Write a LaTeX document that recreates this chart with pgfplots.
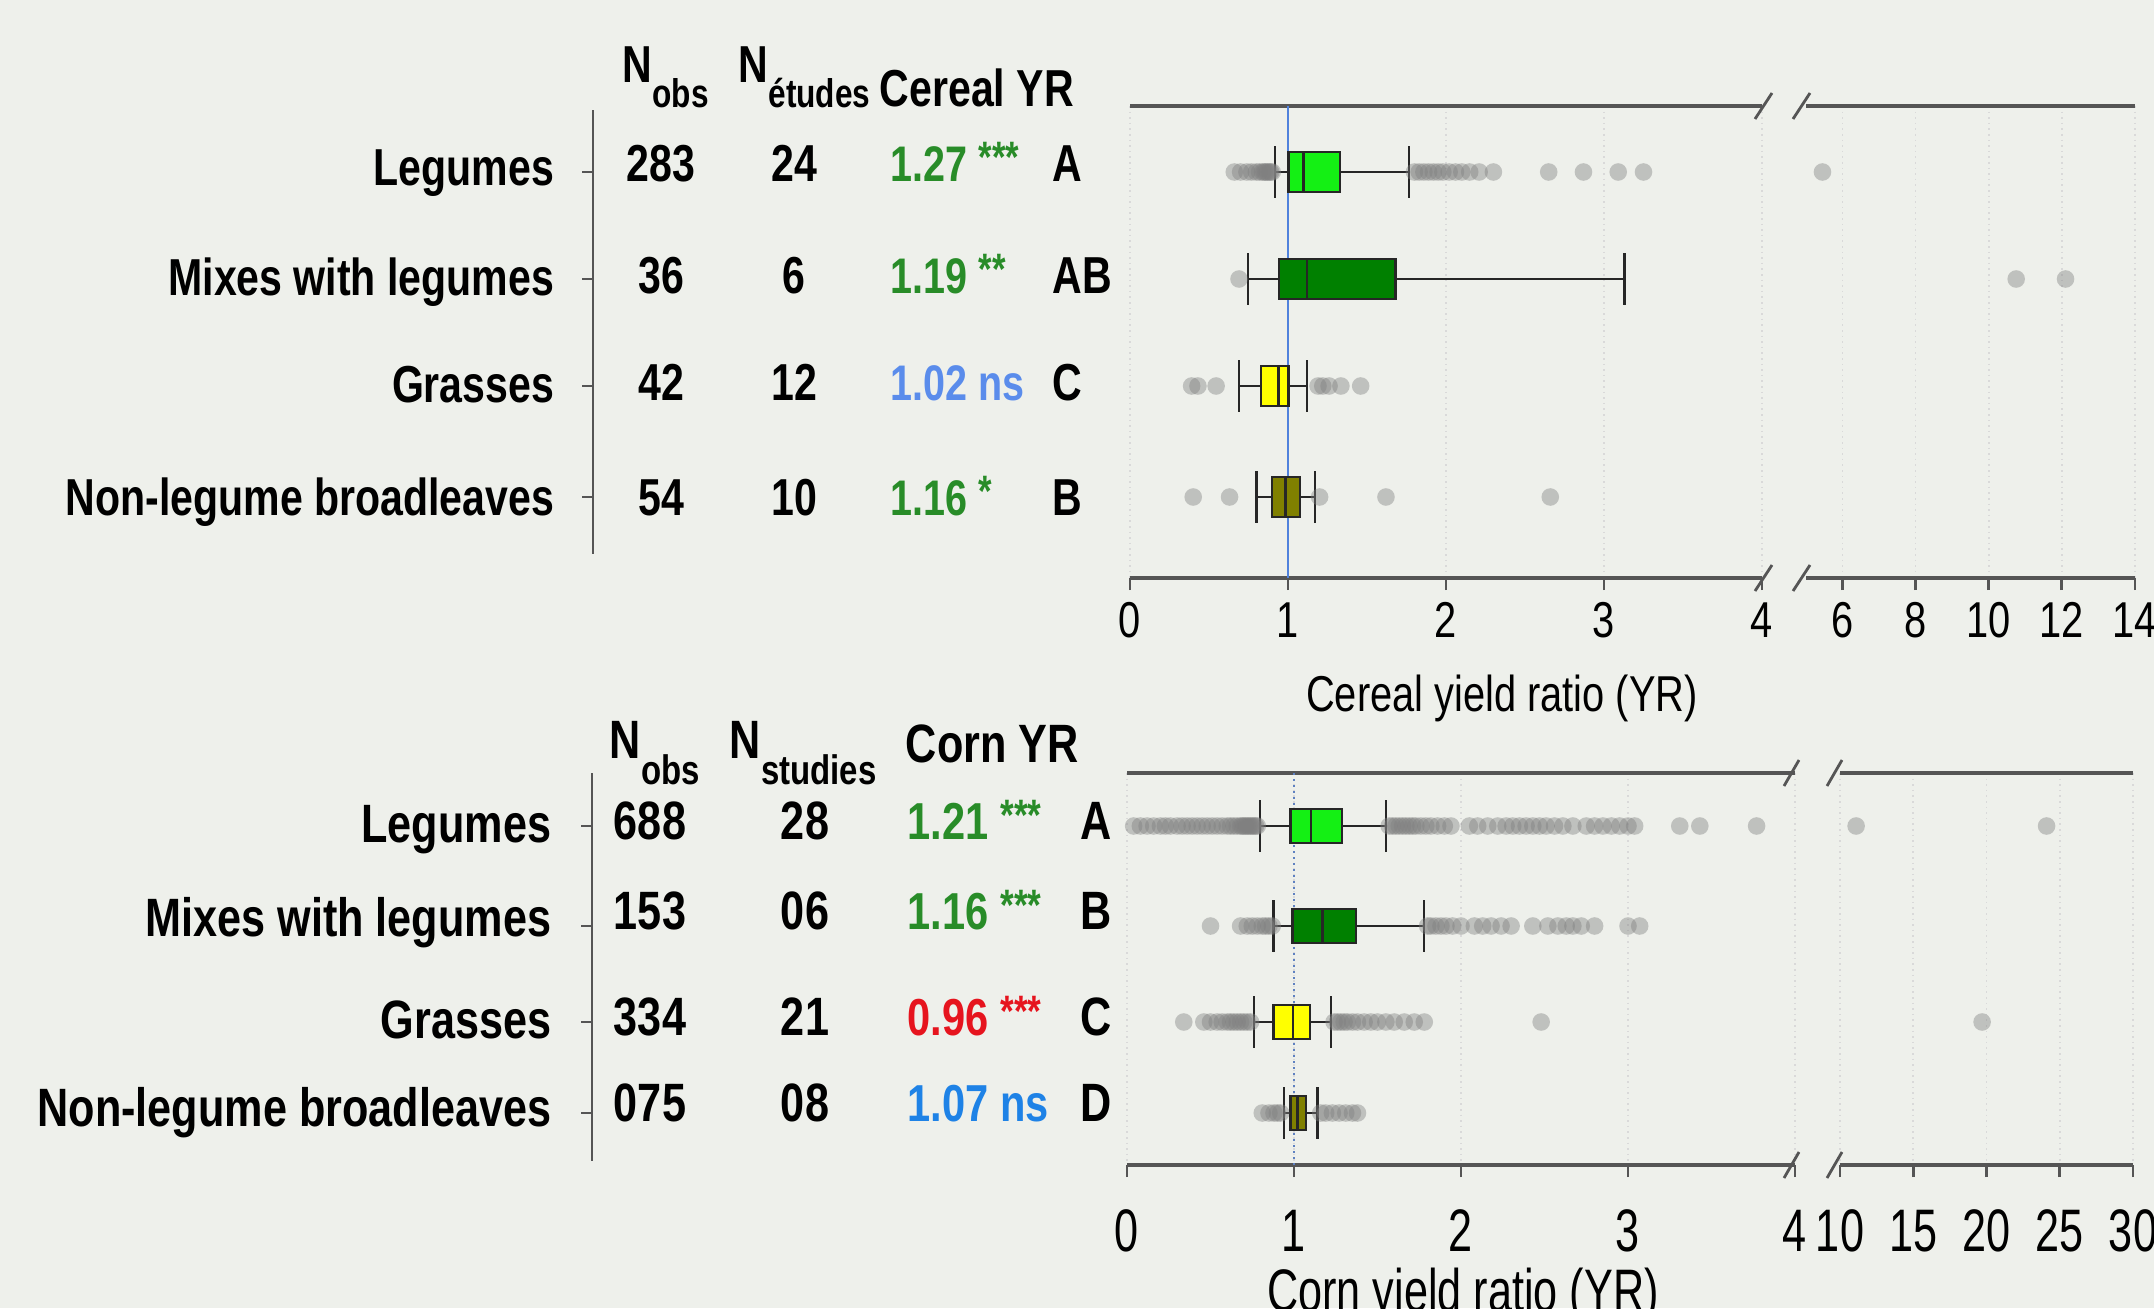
\documentclass[border=0pt]{standalone}
\usepackage{pgfplots}
\pgfplotsset{compat=1.18}
\usepgfplotslibrary{statistics}
\usepackage{fontspec}
\setmainfont{Liberation Sans}
\newfontfamily\nA{Liberation Sans}[FakeStretch=0.79]
\newfontfamily\nB{Liberation Sans}[FakeStretch=0.80]
\newfontfamily\nC{Liberation Sans}[FakeStretch=0.72]
\definecolor{bg}{RGB}{238,240,235}
\definecolor{axcol}{RGB}{85,85,85}
\definecolor{legA}{RGB}{20,240,20}
\definecolor{mixB}{RGB}{0,128,0}
\definecolor{grC}{RGB}{255,255,0}
\definecolor{nlD}{RGB}{128,128,0}
\definecolor{tgreen}{RGB}{40,140,40}
\definecolor{tblueA}{RGB}{90,140,235}
\definecolor{tblueB}{RGB}{30,130,230}
\definecolor{tred}{RGB}{230,20,30}
\definecolor{refblue}{RGB}{80,130,220}
\newcommand\fa{\nA\bfseries\fontsize{13}{13}\selectfont}
\newcommand\fav{\nA\bfseries\fontsize{12.5}{12.5}\selectfont}
\newcommand\fas{\nA\bfseries\fontsize{10}{10}\selectfont}
\newcommand\fb{\nB\bfseries\fontsize{13.5}{13.5}\selectfont}
\newcommand\fbv{\nB\bfseries\fontsize{13}{13}\selectfont}
\newcommand\fbs{\nB\bfseries\fontsize{10.3}{10.3}\selectfont}
\newcommand\ta{\nA\fontsize{12.6}{12.6}\selectfont}
\newcommand\tb{\nC\fontsize{15}{15}\selectfont}
\newcommand\st[1]{\raisebox{2.2pt}{\fontsize{11}{11}\selectfont #1}}
\pgfplotsset{
  seg/.style={scale only axis, axis x line=box, axis y line=none,
    xtick pos=left, tick align=outside, ytick=\empty, y dir=reverse, clip=false,
    axis line style={draw=axcol, line width=0.8pt},
    major tick length=3pt, every tick/.style={draw=axcol, line width=0.7pt},
    xmajorgrids, major grid style={densely dotted, gray!30, line width=0.4pt},
    /pgf/number format/assume math mode=true,
    boxplot/draw direction=x},
  outl/.style={only marks, mark=*, mark size=2.2pt, color=gray,
    mark options={draw=gray, draw opacity=0, fill=gray, fill opacity=0.42}},
  bxs/.style={draw=black!85, line width=0.6pt, fill=#1},
}
\begin{document}
\begin{tikzpicture}
\useasboundingbox (0,0) rectangle (538.5pt,327pt);
\fill[bg] (0,0) rectangle (538.5pt,327pt);
% ---------- top panel, left segment ----------
\begin{axis}[seg, at={(282.5pt,182.5pt)}, anchor=south west, width=158pt, height=118pt,
  xmin=0, xmax=4, ymin=106, ymax=578, xtick={0,1,2,3,4},
  xticklabel style={font=\ta, inner sep=0pt, yshift=-3pt}]
\addplot[color=refblue, line width=0.6pt] coordinates {(1,106) (1,578)};
\addplot[outl] coordinates {(0.66,172)(0.70,172)(0.74,172)(0.77,172)(0.80,172)(0.82,172)(0.84,172)(0.85,172)(0.86,172)(0.87,172)(0.88,172)(0.89,172)(0.90,172)
 (1.80,172)(1.83,172)(1.86,172)(1.89,172)(1.92,172)(1.95,172)(1.98,172)(2.02,172)(2.06,172)(2.10,172)(2.15,172)(2.21,172)(2.30,172)(2.65,172)(2.87,172)(3.09,172)(3.25,172)};
\addplot[outl] coordinates {(0.69,279)};
\addplot[outl] coordinates {(0.39,386)(0.43,386)(0.545,386)(1.19,386)(1.22,386)(1.26,386)(1.335,386)(1.46,386)};
\addplot[outl] coordinates {(0.40,497)(0.63,497)(1.20,497)(1.62,497)(2.66,497)};
\addplot[bxs=legA, boxplot prepared={draw position=172, lower whisker=0.918, lower quartile=1.003, median=1.098, upper quartile=1.329, upper whisker=1.766, box extend=40, whisker extend=52}] coordinates {};
\addplot[bxs=mixB, boxplot prepared={draw position=279, lower whisker=0.747, lower quartile=0.943, median=1.12, upper quartile=1.68, upper whisker=3.13, box extend=40, whisker extend=52}] coordinates {};
\addplot[bxs=grC, boxplot prepared={draw position=386, lower whisker=0.69, lower quartile=0.83, median=0.94, upper quartile=1.003, upper whisker=1.12, box extend=40, whisker extend=52}] coordinates {};
\addplot[bxs=nlD, boxplot prepared={draw position=497, lower whisker=0.80, lower quartile=0.90, median=0.985, upper quartile=1.075, upper whisker=1.17, box extend=40, whisker extend=52}] coordinates {};
\end{axis}
% ---------- top panel, right segment ----------
\begin{axis}[seg, at={(451.5pt,182.5pt)}, anchor=south west, width=82.25pt, height=118pt,
  xmin=5, xmax=14, ymin=106, ymax=578, xtick={6,8,10,12,14},
  xticklabel style={font=\ta, inner sep=0pt, yshift=-3pt}]
\addplot[outl] coordinates {(5.45,172)(10.75,279)(12.1,279)};
\end{axis}
% ---------- bottom panel, left segment ----------
\begin{axis}[seg, at={(281.75pt,35.75pt)}, anchor=south west, width=167pt, height=98pt,
  xmin=0, xmax=4, ymin=773, ymax=1165, xtick={0,1,2,3,4},
  xticklabel style={font=\tb, inner sep=0pt, yshift=-8pt}]
\addplot[color=refblue!70!gray, densely dotted, line width=0.5pt] coordinates {(1,773) (1,1165)};
\addplot[outl] coordinates {(0.04,826)(0.08,826)(0.12,826)(0.16,826)(0.20,826)(0.23,826)(0.26,826)(0.30,826)(0.33,826)(0.36,826)(0.39,826)(0.42,826)(0.45,826)(0.48,826)(0.51,826)(0.54,826)(0.57,826)(0.60,826)(0.62,826)(0.64,826)(0.66,826)(0.68,826)(0.69,826)(0.70,826)(0.71,826)(0.72,826)(0.73,826)(0.74,826)(0.75,826)(0.76,826)(0.77,826)(0.78,826)
 (1.57,826)(1.59,826)(1.61,826)(1.63,826)(1.65,826)(1.67,826)(1.69,826)(1.71,826)(1.73,826)(1.76,826)(1.79,826)(1.82,826)(1.86,826)(1.90,826)(1.94,826)
 (2.05,826)(2.10,826)(2.16,826)(2.22,826)(2.27,826)(2.31,826)(2.35,826)(2.39,826)(2.43,826)(2.47,826)(2.51,826)(2.56,826)(2.61,826)(2.67,826)
 (2.75,826)(2.80,826)(2.85,826)(2.90,826)(2.95,826)(3.00,826)(3.04,826)(3.31,826)(3.43,826)(3.77,826)};
\addplot[outl] coordinates {(0.50,926)(0.68,926)(0.72,926)(0.75,926)(0.78,926)(0.81,926)(0.83,926)(0.85,926)(0.87,926)
 (1.80,926)(1.82,926)(1.85,926)(1.88,926)(1.91,926)(1.95,926)(2.00,926)(2.08,926)(2.13,926)(2.18,926)(2.24,926)(2.30,926)(2.43,926)
 (2.52,926)(2.58,926)(2.63,926)(2.67,926)(2.72,926)(2.80,926)(3.00,926)(3.07,926)};
\addplot[outl] coordinates {(0.34,1022)(0.46,1022)(0.50,1022)(0.54,1022)(0.57,1022)(0.60,1022)(0.62,1022)(0.64,1022)(0.66,1022)(0.68,1022)(0.70,1022)(0.72,1022)(0.74,1022)
 (1.24,1022)(1.26,1022)(1.28,1022)(1.30,1022)(1.32,1022)(1.35,1022)(1.38,1022)(1.42,1022)(1.46,1022)(1.50,1022)(1.55,1022)(1.60,1022)(1.66,1022)(1.72,1022)(1.78,1022)(2.48,1022)};
\addplot[outl] coordinates {(0.81,1113)(0.85,1113)(0.88,1113)(0.90,1113)(0.92,1113)(1.16,1113)(1.19,1113)(1.23,1113)(1.27,1113)(1.31,1113)(1.35,1113)(1.38,1113)};
\addplot[bxs=legA, boxplot prepared={draw position=826, lower whisker=0.796, lower quartile=0.98, median=1.10, upper quartile=1.287, upper whisker=1.55, box extend=34, whisker extend=52}] coordinates {};
\addplot[bxs=mixB, boxplot prepared={draw position=926, lower whisker=0.878, lower quartile=0.99, median=1.17, upper quartile=1.37, upper whisker=1.78, box extend=34, whisker extend=52}] coordinates {};
\addplot[bxs=grC, boxplot prepared={draw position=1022, lower whisker=0.76, lower quartile=0.878, median=0.995, upper quartile=1.097, upper whisker=1.22, box extend=34, whisker extend=52}] coordinates {};
\addplot[bxs=nlD, boxplot prepared={draw position=1113, lower whisker=0.94, lower quartile=0.98, median=1.02, upper quartile=1.07, upper whisker=1.14, box extend=34, whisker extend=52}] coordinates {};
\end{axis}
% ---------- bottom panel, right segment ----------
\begin{axis}[seg, at={(460pt,35.75pt)}, anchor=south west, width=73.25pt, height=98pt,
  xmin=10, xmax=30, ymin=773, ymax=1165, xtick={10,15,20,25,30},
  xticklabel style={font=\tb, inner sep=0pt, yshift=-8pt}]
\addplot[outl] coordinates {(11.1,826)(24.1,826)(19.7,1022)};
\end{axis}
% ---------- canvas: table text, y axes, breaks, axis titles ----------
\begin{axis}[at={(0pt,0pt)}, anchor=south west, scale only axis, width=538.5pt, height=327pt,
  xmin=0, xmax=2154, ymin=0, ymax=1308, y dir=reverse, hide axis, clip=false]
% axis breaks
\draw[axcol, line width=0.7pt] (1755,119) -- (1772,93);
\draw[axcol, line width=0.7pt] (1793,119) -- (1810,93);
\draw[axcol, line width=0.7pt] (1755,591) -- (1772,565);
\draw[axcol, line width=0.7pt] (1793,591) -- (1810,565);
\draw[axcol, line width=0.7pt] (1784,786) -- (1799,760);
\draw[axcol, line width=0.7pt] (1827,786) -- (1842,760);
\draw[axcol, line width=0.7pt] (1784,1178) -- (1799,1152);
\draw[axcol, line width=0.7pt] (1827,1178) -- (1842,1152);
% y axis lines
\draw[axcol, line width=0.6pt] (593,110) -- (593,554);
\draw[axcol, line width=0.6pt] (582,172) -- (593,172);
\draw[axcol, line width=0.6pt] (582,279) -- (593,279);
\draw[axcol, line width=0.6pt] (582,386) -- (593,386);
\draw[axcol, line width=0.6pt] (582,497) -- (593,497);
\draw[axcol, line width=0.6pt] (592,773) -- (592,1161);
\draw[axcol, line width=0.6pt] (581,826) -- (592,826);
\draw[axcol, line width=0.6pt] (581,926) -- (592,926);
\draw[axcol, line width=0.6pt] (581,1022) -- (592,1022);
\draw[axcol, line width=0.6pt] (581,1113) -- (592,1113);
% top header
\node[anchor=base west, inner sep=0] at (622,82) {\fa N\raisebox{-6.25pt}{\fas obs}};
\node[anchor=base west, inner sep=0] at (738,82) {\fa N\raisebox{-6.25pt}{\fas études}};
\node[anchor=base west, inner sep=0] at (879,106) {\fa Cereal YR};
% top rows
\node[anchor=base east, inner sep=0] at (555,185) {\fa Legumes};
\node[anchor=base east, inner sep=0] at (555,295) {\fa Mixes with legumes};
\node[anchor=base east, inner sep=0] at (555,402) {\fa Grasses};
\node[anchor=base east, inner sep=0] at (555,515) {\fa Non-legume broadleaves};
\node[anchor=base, inner sep=0] at (661,181) {\fa 283};
\node[anchor=base, inner sep=0] at (661,293) {\fa 36};
\node[anchor=base, inner sep=0] at (661,400) {\fa 42};
\node[anchor=base, inner sep=0] at (661,515) {\fa 54};
\node[anchor=base, inner sep=0] at (794,181) {\fa 24};
\node[anchor=base, inner sep=0] at (794,293) {\fa 6};
\node[anchor=base, inner sep=0] at (794,400) {\fa 12};
\node[anchor=base, inner sep=0] at (794,515) {\fa 10};
\node[anchor=base west, inner sep=0, text=tgreen] at (890,181) {\fav 1.27 \st{***}};
\node[anchor=base west, inner sep=0, text=tgreen] at (890,293) {\fav 1.19 \st{**}};
\node[anchor=base west, inner sep=0, text=tblueA] at (890,400) {\fav 1.02 ns};
\node[anchor=base west, inner sep=0, text=tgreen] at (890,515) {\fav 1.16 \st{*}};
\node[anchor=base west, inner sep=0] at (1052,181) {\fa A};
\node[anchor=base west, inner sep=0] at (1052,293) {\fa AB};
\node[anchor=base west, inner sep=0] at (1052,400) {\fa C};
\node[anchor=base west, inner sep=0] at (1052,515) {\fa B};
\node[anchor=center, inner sep=0] at (1502,698) {\ta Cereal yield ratio (YR)};
% bottom header
\node[anchor=base west, inner sep=0] at (609,758) {\fb N\raisebox{-6.5pt}{\fbs obs}};
\node[anchor=base west, inner sep=0] at (729,758) {\fb N\raisebox{-6.5pt}{\fbs studies}};
\node[anchor=base west, inner sep=0] at (905,762) {\fb Corn YR};
% bottom rows
\node[anchor=base east, inner sep=0] at (552,842) {\fb Legumes};
\node[anchor=base east, inner sep=0] at (552,936) {\fb Mixes with legumes};
\node[anchor=base east, inner sep=0] at (552,1038) {\fb Grasses};
\node[anchor=base east, inner sep=0] at (552,1126) {\fb Non-legume broadleaves};
\node[anchor=base, inner sep=0] at (650,839) {\fb 688};
\node[anchor=base, inner sep=0] at (650,929) {\fb 153};
\node[anchor=base, inner sep=0] at (650,1035) {\fb 334};
\node[anchor=base, inner sep=0] at (650,1121) {\fb 075};
\node[anchor=base, inner sep=0] at (805,839) {\fb 28};
\node[anchor=base, inner sep=0] at (805,929) {\fb 06};
\node[anchor=base, inner sep=0] at (805,1035) {\fb 21};
\node[anchor=base, inner sep=0] at (805,1121) {\fb 08};
\node[anchor=base west, inner sep=0, text=tgreen] at (907,839) {\fbv 1.21 \st{***}};
\node[anchor=base west, inner sep=0, text=tgreen] at (907,929) {\fbv 1.16 \st{***}};
\node[anchor=base west, inner sep=0, text=tred] at (907,1035) {\fbv 0.96 \st{***}};
\node[anchor=base west, inner sep=0, text=tblueB] at (907,1121) {\fbv 1.07 ns};
\node[anchor=base west, inner sep=0] at (1080,839) {\fb A};
\node[anchor=base west, inner sep=0] at (1080,929) {\fb B};
\node[anchor=base west, inner sep=0] at (1080,1035) {\fb C};
\node[anchor=base west, inner sep=0] at (1080,1121) {\fb D};
\node[anchor=base, inner sep=0] at (1463,1311) {\tb Corn yield ratio (YR)};
\end{axis}
\end{tikzpicture}
\end{document}
